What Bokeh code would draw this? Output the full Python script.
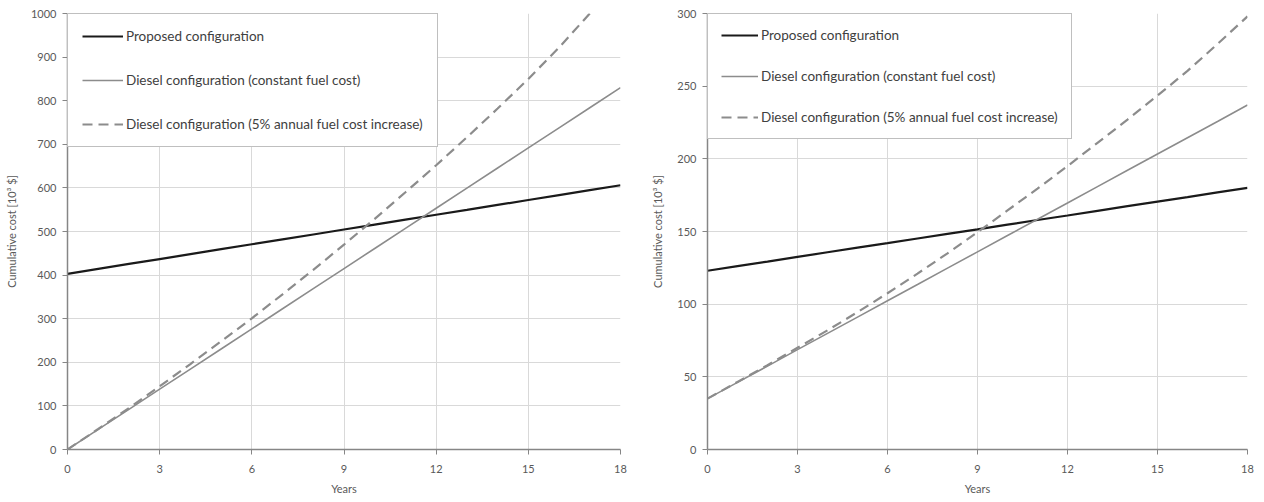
from bokeh.plotting import figure
from bokeh.layouts import row
from bokeh.models import Legend, LegendItem, FixedTicker
from bokeh.embed import file_html
from bokeh.resources import INLINE

years = list(range(0, 19))

# Left chart (10^3 $)
left_proposed = [403.0, 414.3, 425.6, 436.8, 448.1, 459.4, 470.7, 482.0, 493.2, 504.5,
                 515.8, 527.1, 538.4, 549.6, 560.9, 572.2, 583.5, 594.8, 606.0]
left_constant = [0, 46.1, 92.2, 138.3, 184.4, 230.6, 276.7, 322.8, 368.9, 415.0,
                 461.1, 507.2, 553.3, 599.4, 645.6, 691.7, 737.8, 783.9, 830.0]
left_escal = [0, 47, 95, 145, 196, 248, 301, 356, 412, 470,
              529, 590, 652, 716, 782, 850, 922, 1000, 1080]

# Right chart (10^3 $)
right_proposed = [123.0, 126.2, 129.3, 132.5, 135.7, 138.9, 142.0, 145.2, 148.4, 151.5,
                  154.7, 157.9, 161.0, 164.2, 167.4, 170.6, 173.7, 176.9, 180.0]
right_constant = [35.0, 46.2, 57.4, 68.7, 79.9, 91.1, 102.3, 113.5, 124.8, 136.0,
                  147.2, 158.4, 169.6, 180.9, 192.1, 203.3, 214.5, 225.7, 237.0]
right_escal = [35, 46.5, 58, 70, 82, 94.5, 107.5, 121, 135, 149.5,
               164.5, 179.5, 195, 211, 227, 243.5, 260.5, 279, 298]

labels = ["Proposed configuration",
          "Diesel configuration (constant fuel cost)",
          "Diesel configuration (5% annual fuel cost increase)"]

x_ticks = [0, 3, 6, 9, 12, 15, 18]
left_yticks = list(range(0, 1001, 100))
right_yticks = list(range(0, 301, 50))

FONT = "Lato"
TXT = "#595959"
AX = "#868686"
GRID = "#d9d9d9"


def make(width, height, ymax, yticks, prop, const, esc, bl, br, bt, bb, pad, spacing, gw):
    p = figure(width=width, height=height, x_range=(0, 18), y_range=(0, ymax),
               output_backend="svg", toolbar_location=None,
               min_border_left=bl, min_border_right=br, min_border_top=bt, min_border_bottom=bb)
    p.outline_line_color = None
    p.background_fill_color = "white"
    p.border_fill_color = "white"
    r1 = p.line(years, prop, line_color="#1a1a1a", line_width=2.2)
    r2 = p.line(years, const, line_color="#8c8c8c", line_width=1.6)
    r3 = p.line(years, esc, line_color="#8c8c8c", line_width=2.2, line_dash="10 6")

    p.xaxis.ticker = FixedTicker(ticks=x_ticks)
    p.yaxis.ticker = FixedTicker(ticks=yticks)
    p.xgrid.ticker = FixedTicker(ticks=x_ticks)
    p.ygrid.ticker = FixedTicker(ticks=yticks)
    for g in (p.xgrid, p.ygrid):
        g.grid_line_color = GRID
        g.grid_line_width = 1
    for ax in (p.xaxis, p.yaxis):
        ax.axis_line_color = AX
        ax.axis_line_width = 1.5
        ax.major_tick_line_color = AX
        ax.major_tick_out = 5
        ax.major_tick_in = 0
        ax.minor_tick_line_color = None
        ax.major_label_text_font = FONT
        ax.major_label_text_font_size = "11px"
        ax.major_label_text_color = TXT
        ax.axis_label_text_font = FONT
        ax.axis_label_text_font_size = "11px"
        ax.axis_label_text_color = TXT
        ax.axis_label_text_font_style = "normal"
    p.xaxis.axis_label = "Years"
    p.xaxis.major_label_standoff = 10
    p.xaxis.axis_label_standoff = 6
    p.yaxis.axis_label = "Cumulative cost [10³ $]"
    p.yaxis.major_label_standoff = 6
    p.yaxis.axis_label_standoff = 10

    legend = Legend(items=[LegendItem(label=labels[0], renderers=[r1]),
                           LegendItem(label=labels[1], renderers=[r2]),
                           LegendItem(label=labels[2], renderers=[r3])],
                    location="top_left", margin=0, padding=pad, spacing=spacing,
                    glyph_width=gw, glyph_height=16, label_height=16, label_standoff=3,
                    label_text_font=FONT, label_text_font_size="13.5px", label_text_color="#404040",
                    border_line_color="#7f7f7f", border_line_width=1,
                    background_fill_color="white", background_fill_alpha=1.0)
    p.add_layout(legend, "center")
    return p


left = make(640, 500, 1000, left_yticks, left_proposed, left_constant, left_escal,
            67, 20, 13, 50, 14, 28, 41)
right = make(624, 500, 300, right_yticks, right_proposed, right_constant, right_escal,
             67, 17, 11, 51, 13, 25, 37)

layout = row(left, right, spacing=0)
open("out.html", "w").write(file_html(layout, INLINE))
